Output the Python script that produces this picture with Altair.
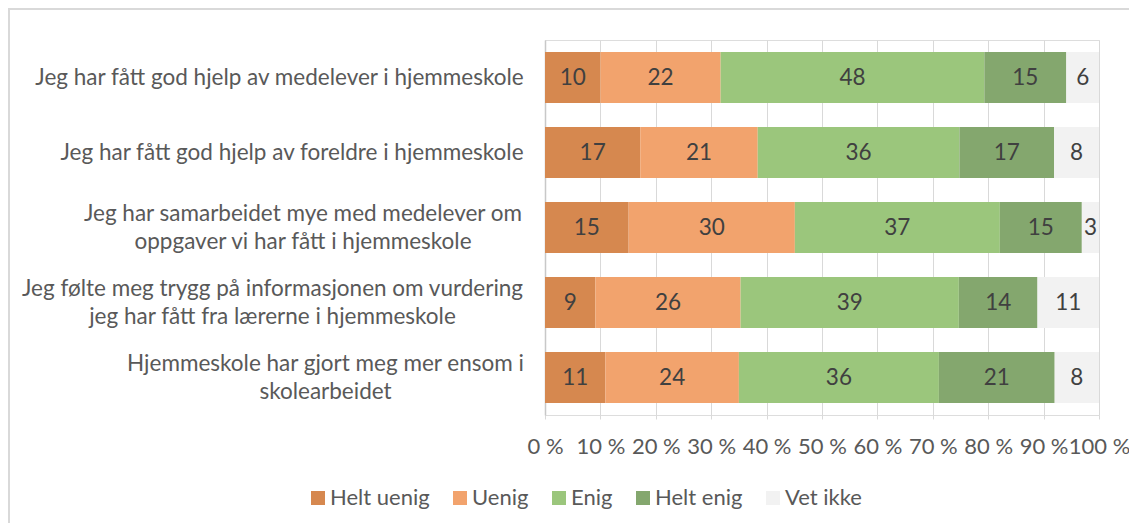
import altair as alt
import pandas as pd

questions = [
    "Jeg har fått god hjelp av medelever i hjemmeskole",
    "Jeg har fått god hjelp av foreldre i hjemmeskole",
    "Jeg har samarbeidet mye med medelever om\noppgaver vi har fått i hjemmeskole",
    "Jeg følte meg trygg på informasjonen om vurdering\njeg har fått fra lærerne i hjemmeskole",
    "Hjemmeskole har gjort meg mer ensom i\nskolearbeidet",
]
categories = ["Helt uenig", "Uenig", "Enig", "Helt enig", "Vet ikke"]
colors = ["#d6884f", "#f2a36d", "#9bc67c", "#84a76e", "#f2f2f2"]

helt_uenig = [10.0, 17.2, 15.1, 9.1, 10.9]
uenig = [21.7, 21.2, 30.0, 26.2, 24.1]
enig = [47.6, 36.4, 37.0, 39.4, 36.1]
helt_enig = [14.8, 17.1, 14.8, 14.2, 20.9]
vet_ikke = [5.9, 8.1, 3.1, 11.1, 8.0]

x_ticks = [0, 10, 20, 30, 40, 50, 60, 70, 80, 90, 100]

series = [helt_uenig, uenig, enig, helt_enig, vet_ikke]
rows = []
for qi, q in enumerate(questions):
    for ci, c in enumerate(categories):
        rows.append({"question": q, "category": c, "order": ci, "value": series[ci][qi]})
df = pd.DataFrame(rows)

FONT = "Lato"
TXT = "#595959"

# label padding to emulate Excel's right-aligned blocks with centered lines
pad_cond = {
    "condition": [
        {"test": "indexof(datum.value, 'medelever i hjemmeskole') >= 0", "value": 266},
        {"test": "indexof(datum.value, 'foreldre') >= 0", "value": 253.5},
        {"test": "indexof(datum.value, 'samarbeidet') >= 0", "value": 242.5},
        {"test": "indexof(datum.value, 'trygg') >= 0", "value": 273},
        {"test": "indexof(datum.value, 'ensom') >= 0", "value": 220},
    ],
    "value": 250,
}
offset_cond = {
    "condition": [
        {"test": "indexof(datum.value, 'samarbeidet') >= 0", "value": -14},
        {"test": "indexof(datum.value, 'trygg') >= 0", "value": -14},
        {"test": "indexof(datum.value, 'ensom') >= 0", "value": -14},
    ],
    "value": 0,
}

y_enc = alt.Y(
    "question:N",
    sort=questions,
    scale=alt.Scale(paddingInner=0.32, paddingOuter=0.16),
    axis=alt.Axis(
        title=None,
        labelExpr="split(datum.label, '\\n')",
        labelAlign="center",
        labelPadding=pad_cond,
        labelOffset=offset_cond,
        labelFontSize=22.5,
        labelLineHeight=28,
        labelColor=TXT,
        labelFont=FONT,
        labelLimit=0,
        ticks=False,
        tickSize=0,
        grid=False,
        domain=True,
        domainColor="#c8c8c8",
        domainWidth=1.5,
    ),
)

base = (
    alt.Chart(df)
    .transform_stack(
        stack="value",
        groupby=["question"],
        as_=["v0", "v1"],
        sort=[alt.SortField("order", order="ascending")],
    )
    .transform_calculate(mid="(datum.v0 + datum.v1) / 2")
)

bars = base.mark_bar().encode(
    x=alt.X(
        "v0:Q",
        scale=alt.Scale(domain=[0, 100], nice=False),
        axis=alt.Axis(
            title=None,
            values=x_ticks,
            labelExpr="datum.value + ' %'",
            grid=True,
            gridColor="#d9d9d9",
            gridWidth=1,
            domain=False,
            ticks=True,
            tickColor="#d9d9d9",
            tickSize=4,
            labelPadding=17,
            labelFontSize=22,
            labelColor=TXT,
            labelFont=FONT,
            labelFlush=False,
            labelOverlap=False,
        ),
    ),
    x2="v1:Q",
    y=y_enc,
    color=alt.Color(
        "category:N",
        scale=alt.Scale(domain=categories, range=colors),
        legend=alt.Legend(
            title=None,
            orient="none",
            legendX=-238,
            legendY=447,
            direction="horizontal",
            symbolType="square",
            symbolSize=196,
            symbolStrokeWidth=0,
            labelFontSize=22,
            labelColor=TXT,
            labelFont=FONT,
            labelOffset=1,
            columnPadding=19,
            padding=0,
        ),
    ),
    order=alt.Order("order:Q"),
)

labels = base.mark_text(fontSize=22.5, color="#404040", font=FONT, baseline="middle").encode(
    x="mid:Q",
    y=alt.Y("question:N", sort=questions),
    text=alt.Text("value:Q", format=".0f"),
)

frame = (
    alt.Chart(pd.DataFrame({"k": [0]}))
    .mark_rect(fillOpacity=0, stroke="#d9d9d9", strokeWidth=2)
    .encode(x=alt.value(-536), x2=alt.value(700), y=alt.value(-31), y2=alt.value(600))
)

chart = (
    alt.layer(frame, bars, labels)
    .properties(
        width=554,
        height=375,
        autosize=alt.AutoSizeParams(type="none"),
        padding={"left": 537, "top": 32, "right": 30, "bottom": 108},
    )
    .configure_view(stroke=None)
    .configure(font=FONT, background="white")
)

chart.save("out.html", embed_options={"renderer": "svg", "actions": False})
